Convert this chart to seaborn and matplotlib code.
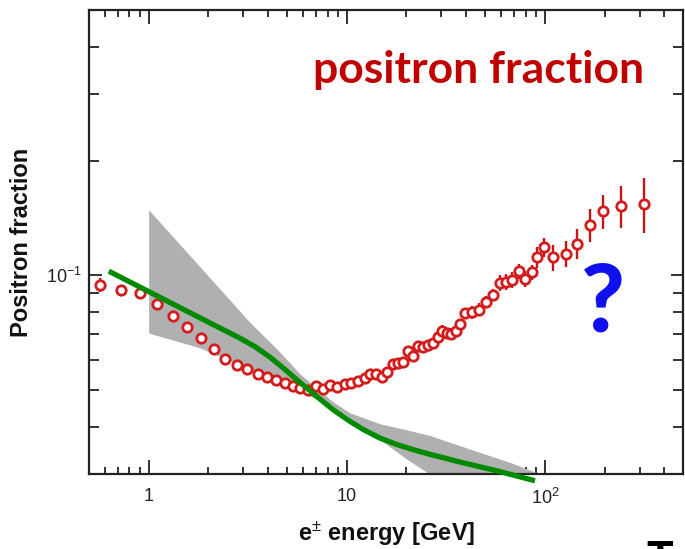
import matplotlib
matplotlib.use("Agg")
import matplotlib.pyplot as plt
import numpy as np
import pandas as pd
import seaborn as sns
from matplotlib.ticker import FixedLocator, FixedFormatter, NullFormatter

# ---------------- data ----------------
energy = [0.570, 0.722, 0.901, 1.101, 1.332, 1.569, 1.846, 2.130, 2.440, 2.783,
          3.145, 3.552, 3.954, 4.379, 4.863, 5.355, 5.836, 6.375, 6.999, 7.592,
          8.254, 8.974, 9.770, 10.56, 11.41, 12.33, 13.12, 14.01, 14.97, 15.92,
          17.08, 18.16, 19.24, 20.26, 21.62, 22.92, 24.29, 25.74, 27.29, 28.92,
          30.09, 31.88, 33.51, 35.40, 37.22, 39.45, 42.65, 46.58, 50.35, 54.43,
          59.26, 63.53, 68.35, 73.67, 79.25, 85.68, 91.43, 98.83, 110.1, 127.7,
          145.9, 168.8, 195.2, 240.6, 317.0]
fraction = [0.0946, 0.0917, 0.0899, 0.0840, 0.0781, 0.0732, 0.0683, 0.0640, 0.0604, 0.0581,
            0.0567, 0.0550, 0.0541, 0.0532, 0.0520, 0.0512, 0.0505, 0.0500, 0.0511, 0.0502,
            0.0514, 0.0509, 0.0517, 0.0520, 0.0528, 0.0537, 0.0550, 0.0550, 0.0541, 0.0557,
            0.0585, 0.0587, 0.0591, 0.0634, 0.0614, 0.0652, 0.0649, 0.0656, 0.0665, 0.0689,
            0.0715, 0.0704, 0.0701, 0.0715, 0.0744, 0.0794, 0.0799, 0.0813, 0.0851, 0.0890,
            0.0955, 0.0961, 0.0974, 0.1026, 0.0980, 0.1020, 0.1117, 0.1186, 0.1117, 0.1140,
            0.1213, 0.1360, 0.1480, 0.1525, 0.1544]
err_low = [0.0040] + [0.0008] * 29 + [0.0017] * 10 + [0.0024] * 6 + [0.0032] * 4 + \
          [0.0045] * 6 + [0.0070, 0.0070, 0.0088, 0.0089, 0.0109, 0.0134, 0.0152, 0.0195, 0.0248]
err_high = [0.0040] + [0.0008] * 29 + [0.0017] * 10 + [0.0024] * 6 + [0.0032] * 4 + \
           [0.0045] * 6 + [0.0070, 0.0070, 0.0088, 0.0090, 0.0109, 0.0137, 0.0150, 0.0195, 0.0256]

band_energy = [1.0, 1.81, 3.24, 4.59, 5.79, 8.51, 10.34, 14.66, 20.1, 26.2, 46.9, 66.5, 94.4]
band_upper = [0.1489, 0.1056, 0.0753, 0.0629, 0.0551, 0.0465, 0.0435, 0.0407, 0.0392,
              0.0379, 0.0342, 0.0322, 0.0300]
band_lower = [0.0705, 0.0645, 0.0567, 0.0520, 0.0494, 0.0452, 0.0422, 0.0370, 0.0328,
              0.0300, 0.0250, 0.0240, 0.0220]

model_energy = [0.630, 1.810, 2.882, 3.430, 4.084, 4.863, 5.790, 6.892, 8.528, 10.36,
                12.09, 14.68, 17.82, 21.54, 26.3, 38.7, 57.0, 89.0]
model_fraction = [0.1026, 0.0774, 0.0684, 0.0650, 0.0610, 0.0566, 0.0523, 0.0485, 0.0443,
                  0.0413, 0.0393, 0.0373, 0.0359, 0.0348, 0.0338, 0.0321, 0.0306, 0.0288]

x_major = [1, 10, 100]
x_major_labels = ["1", "10", r"$10^2$"]
x_minor = [0.6, 0.7, 0.8, 0.9, 2, 3, 4, 5, 6, 7, 8, 9,
           20, 30, 40, 50, 60, 70, 80, 90, 200, 300, 400]
y_major = [0.1]
y_major_labels = [r"$10^{-1}$"]
y_minor = [0.04, 0.05, 0.06, 0.07, 0.08, 0.09, 0.2, 0.3, 0.4]

# ---------------- style ----------------
sns.set_theme(style="ticks")
plt.rcParams["font.family"] = ["Liberation Sans", "DejaVu Sans"]
plt.rcParams["mathtext.fontset"] = "custom"
plt.rcParams["mathtext.rm"] = "Liberation Sans"
plt.rcParams["mathtext.it"] = "Liberation Sans:italic"
plt.rcParams["mathtext.bf"] = "Liberation Sans:bold"

fig = plt.figure(figsize=(6.85, 5.49), dpi=100)
ax = fig.add_axes([0.1299, 0.1366, 0.8679, 0.8452])

# grey band
ax.fill_between(band_energy, band_lower, band_upper, color="#b0b0b0", lw=0, zorder=1)

# data points with error bars
df = pd.DataFrame({"energy": energy, "fraction": fraction})
ax.errorbar(energy, fraction, yerr=[err_low, err_high], fmt="none",
            ecolor="#c41616", elinewidth=1.7, capsize=0, zorder=3)
sns.scatterplot(data=df, x="energy", y="fraction", ax=ax, marker="o", s=46,
                color="white", edgecolor="#d41c1c", linewidth=2.0, zorder=4)

# green model curve
mdf = pd.DataFrame({"energy": model_energy, "fraction": model_fraction})
sns.lineplot(data=mdf, x="energy", y="fraction", ax=ax, color="#008a00",
             linewidth=3.8, sort=False, errorbar=None, zorder=5)
ax.lines[-1].set_clip_on(False)
ax.lines[-1].set_solid_capstyle("butt")
ax.lines[-1].set_solid_joinstyle("round")

ax.set_xscale("log")
ax.set_yscale("log")
ax.set_xlim(0.5, 500)
ax.set_ylim(0.03, 0.5)

ax.xaxis.set_major_locator(FixedLocator(x_major))
ax.xaxis.set_major_formatter(FixedFormatter(x_major_labels))
ax.xaxis.set_minor_locator(FixedLocator(x_minor))
ax.xaxis.set_minor_formatter(NullFormatter())
ax.yaxis.set_major_locator(FixedLocator(y_major))
ax.yaxis.set_major_formatter(FixedFormatter(y_major_labels))
ax.yaxis.set_minor_locator(FixedLocator(y_minor))
ax.yaxis.set_minor_formatter(NullFormatter())

ax.tick_params(which="both", direction="in", top=True, right=True,
               color="#222222", labelcolor="#222222", labelsize=13, width=1.3)
ax.tick_params(axis="x", which="major", length=10, pad=10)
ax.tick_params(axis="x", which="minor", length=5)
ax.tick_params(axis="y", which="major", length=9, pad=5)
ax.tick_params(axis="y", which="minor", length=7)
for s in ax.spines.values():
    s.set_linewidth(1.6)
    s.set_color("#222222")

ax.set_xlabel(r"e$^{\pm}$ energy [GeV]", fontsize=17, fontweight="bold", color="#111111")
ax.set_ylabel("Positron fraction", fontsize=17, fontweight="bold", color="#111111")
ax.xaxis.set_label_coords(0.5, -0.098)
ax.yaxis.set_label_coords(-0.094, 0.5)

fig.text(313 / 685, 1 - 83 / 549, "positron fraction", family=["Lato", "DejaVu Sans"],
         fontsize=32, fontweight="bold", color="#c00000", ha="left", va="baseline")
fig.text(603 / 685, 1 - 332 / 549, "?", family=["Lato", "DejaVu Sans"],
         fontsize=68, fontweight="black", color="#1010ee", ha="center", va="baseline")
fig.text(646 / 685, 1 - 573 / 549, "To", family=["Lato", "DejaVu Sans"],
         fontsize=32, fontweight="bold", color="black", ha="left", va="baseline")

fig.savefig("out.png", dpi=100)
